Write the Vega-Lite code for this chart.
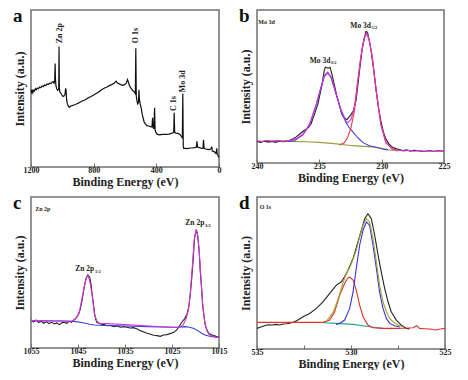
{
  "$schema": "https://vega.github.io/schema/vega-lite/v6.json",
  "background": "white",
  "padding": {"left": 12, "top": 6, "right": 0, "bottom": 0},
  "config": {
    "view": {"stroke": "#707070", "strokeWidth": 1.5},
    "font": "'Liberation Serif', 'Times New Roman', 'DejaVu Serif', serif",
    "axis": {"grid": false, "domain": false, "labelFont": "'Liberation Serif', 'Times New Roman', 'DejaVu Serif', serif", "titleFont": "'Liberation Serif', 'Times New Roman', 'DejaVu Serif', serif", "labelFontWeight": "bold", "titleFontWeight": "bold", "labelColor": "#222222", "titleColor": "#222222", "labelFontSize": 8, "titleFontSize": 12},
    "axisX": {"tickSize": -4, "tickColor": "#707070", "tickWidth": 1, "labelPadding": 3, "titlePadding": 2, "labelOverlap": false, "labelFlush": false},
    "axisY": {"labels": false, "ticks": false, "titlePadding": 5},
    "title": {"font": "'Liberation Serif', 'Times New Roman', 'DejaVu Serif', serif", "fontWeight": "bold", "fontSize": 19, "anchor": "start", "frame": "bounds", "baseline": "alphabetic", "offset": 0, "dy": 20, "color": "#111111"},
    "text": {"font": "'Liberation Serif', 'Times New Roman', 'DejaVu Serif', serif", "fontWeight": "bold", "color": "#222222"},
    "line": {"strokeWidth": 1.1}
  },
  "bounds": "flush",
  "columns": 2,
  "spacing": {"row": 30, "column": 38},
  "resolve": {"scale": {"color": "independent"}},
  "datasets": {
    "a_line": [
      {"e":1200,"i":228},{"e":1196,"i":220},{"e":1192,"i":225},{"e":1188,"i":219},{"e":1184,"i":226},{"e":1178,"i":224},{"e":1172,"i":231},{"e":1166,"i":228},{"e":1160,"i":233},{"e":1152,"i":231},{"e":1145,"i":236},{"e":1138,"i":234},{"e":1130,"i":239},{"e":1122,"i":237},{"e":1114,"i":242},{"e":1106,"i":240},{"e":1098,"i":245},{"e":1090,"i":243},{"e":1082,"i":247},{"e":1074,"i":246},{"e":1066,"i":250},{"e":1058,"i":252},{"e":1053,"i":247},{"e":1049,"i":252},{"e":1046,"i":305},{"e":1044,"i":262},{"e":1041,"i":240},{"e":1036,"i":231},{"e":1031,"i":226},{"e":1026,"i":228},{"e":1023,"i":232},{"e":1021,"i":355},{"e":1019,"i":232},{"e":1016,"i":222},{"e":1010,"i":218},{"e":1004,"i":213},{"e":996,"i":208},{"e":988,"i":210},{"e":983,"i":214},{"e":979,"i":232},{"e":976,"i":226},{"e":973,"i":200},{"e":968,"i":186},{"e":962,"i":180},{"e":956,"i":176},{"e":948,"i":179},{"e":938,"i":181},{"e":925,"i":183},{"e":910,"i":186},{"e":895,"i":189},{"e":880,"i":193},{"e":865,"i":196},{"e":850,"i":199},{"e":835,"i":204},{"e":820,"i":207},{"e":805,"i":211},{"e":790,"i":215},{"e":775,"i":219},{"e":760,"i":224},{"e":745,"i":229},{"e":730,"i":233},{"e":715,"i":236},{"e":700,"i":240},{"e":685,"i":243},{"e":670,"i":247},{"e":662,"i":251},{"e":656,"i":253},{"e":650,"i":248},{"e":640,"i":246},{"e":628,"i":243},{"e":615,"i":241},{"e":603,"i":243},{"e":592,"i":247},{"e":584,"i":258},{"e":578,"i":250},{"e":572,"i":240},{"e":564,"i":234},{"e":556,"i":229},{"e":548,"i":224},{"e":540,"i":221},{"e":534,"i":216},{"e":531,"i":350},{"e":528,"i":210},{"e":524,"i":196},{"e":519,"i":186},{"e":514,"i":190},{"e":511,"i":228},{"e":508,"i":200},{"e":503,"i":186},{"e":496,"i":172},{"e":490,"i":155},{"e":485,"i":146},{"e":478,"i":133},{"e":470,"i":127},{"e":460,"i":122},{"e":448,"i":121},{"e":436,"i":119},{"e":428,"i":118},{"e":424,"i":145},{"e":421,"i":118},{"e":416,"i":112},{"e":411,"i":175},{"e":408,"i":110},{"e":403,"i":102},{"e":395,"i":97},{"e":380,"i":95},{"e":360,"i":96},{"e":340,"i":96},{"e":320,"i":97},{"e":305,"i":99},{"e":292,"i":101},{"e":289,"i":104},{"e":286,"i":160},{"e":283,"i":102},{"e":275,"i":100},{"e":262,"i":99},{"e":250,"i":96},{"e":240,"i":90},{"e":234,"i":86},{"e":231,"i":217},{"e":228,"i":60},{"e":225,"i":55},{"e":215,"i":55},{"e":200,"i":54},{"e":185,"i":56},{"e":170,"i":56},{"e":155,"i":57},{"e":145,"i":58},{"e":141,"i":76},{"e":137,"i":59},{"e":125,"i":57},{"e":110,"i":55},{"e":102,"i":56},{"e":99,"i":80},{"e":95,"i":55},{"e":85,"i":53},{"e":72,"i":52},{"e":60,"i":51},{"e":50,"i":55},{"e":46,"i":60},{"e":43,"i":47},{"e":35,"i":46},{"e":28,"i":44},{"e":20,"i":40},{"e":16,"i":48},{"e":14,"i":55},{"e":12,"i":40},{"e":8,"i":36},{"e":4,"i":32},{"e":0,"i":28}
    ],
    "a_lab": [
      {"e":1018,"i":365,"t":"Zn 2p"},{"e":530,"i":365,"t":"O 1s"},{"e":287,"i":165,"t":"C 1s"},{"e":227,"i":220,"t":"Mo 3d"}
    ],
    "b_line": [
      {"s":"background","e":240,"i":66},{"s":"background","e":238,"i":66},{"s":"background","e":236,"i":65},{"s":"background","e":235,"i":63},{"s":"background","e":234,"i":60},{"s":"background","e":233,"i":56},{"s":"background","e":232.3,"i":53},{"s":"background","e":231.5,"i":51},{"s":"background","e":231,"i":50},{"s":"background","e":230.5,"i":48},{"s":"background","e":230,"i":45},{"s":"background","e":229.5,"i":41},{"s":"background","e":229,"i":38},{"s":"background","e":228.7,"i":37},
      {"s":"raw","e":240,"i":66},{"s":"raw","e":239.7,"i":63},{"s":"raw","e":239.4,"i":67},{"s":"raw","e":239.1,"i":64},{"s":"raw","e":238.8,"i":66},{"s":"raw","e":238.5,"i":63},{"s":"raw","e":238.2,"i":67},{"s":"raw","e":237.9,"i":65},{"s":"raw","e":237.6,"i":68},{"s":"raw","e":237.39,"i":69},{"s":"raw","e":237.1,"i":74},{"s":"raw","e":236.86,"i":80},{"s":"raw","e":236.6,"i":88},{"s":"raw","e":236.3,"i":97},{"s":"raw","e":236.06,"i":103},{"s":"raw","e":235.85,"i":110},{"s":"raw","e":235.66,"i":120},{"s":"raw","e":235.4,"i":148},{"s":"raw","e":235.12,"i":180},{"s":"raw","e":234.95,"i":210},{"s":"raw","e":234.78,"i":240},{"s":"raw","e":234.6,"i":285},{"s":"raw","e":234.51,"i":293},{"s":"raw","e":234.3,"i":290},{"s":"raw","e":234.14,"i":293},{"s":"raw","e":233.95,"i":265},{"s":"raw","e":233.79,"i":238},{"s":"raw","e":233.6,"i":205},{"s":"raw","e":233.39,"i":178},{"s":"raw","e":233.2,"i":150},{"s":"raw","e":232.99,"i":138},{"s":"raw","e":232.78,"i":133},{"s":"raw","e":232.6,"i":142},{"s":"raw","e":232.46,"i":148},{"s":"raw","e":232.27,"i":160},{"s":"raw","e":232.06,"i":190},{"s":"raw","e":231.9,"i":240},{"s":"raw","e":231.79,"i":278},{"s":"raw","e":231.53,"i":358},{"s":"raw","e":231.26,"i":403},{"s":"raw","e":231.13,"i":400},{"s":"raw","e":230.86,"i":348},{"s":"raw","e":230.66,"i":290},{"s":"raw","e":230.46,"i":228},{"s":"raw","e":230.26,"i":170},{"s":"raw","e":230.06,"i":128},{"s":"raw","e":229.86,"i":95},{"s":"raw","e":229.66,"i":73},{"s":"raw","e":229.4,"i":58},{"s":"raw","e":229.13,"i":48},{"s":"raw","e":228.86,"i":44},{"s":"raw","e":228.6,"i":41},{"s":"raw","e":228.3,"i":38},{"s":"raw","e":228,"i":40},{"s":"raw","e":227.7,"i":36},{"s":"raw","e":227.4,"i":39},{"s":"raw","e":227,"i":37},{"s":"raw","e":226.6,"i":35},{"s":"raw","e":226.2,"i":38},{"s":"raw","e":225.8,"i":36},{"s":"raw","e":225.4,"i":38},{"s":"raw","e":225,"i":36},
      {"s":"Mo 3d3/2","e":237.5,"i":66},{"s":"Mo 3d3/2","e":237,"i":68},{"s":"Mo 3d3/2","e":236.32,"i":86},{"s":"Mo 3d3/2","e":235.79,"i":116},{"s":"Mo 3d3/2","e":235.26,"i":176},{"s":"Mo 3d3/2","e":234.86,"i":231},{"s":"Mo 3d3/2","e":234.59,"i":266},{"s":"Mo 3d3/2","e":234.33,"i":276},{"s":"Mo 3d3/2","e":234.06,"i":261},{"s":"Mo 3d3/2","e":233.66,"i":211},{"s":"Mo 3d3/2","e":233.26,"i":160},{"s":"Mo 3d3/2","e":232.86,"i":124},{"s":"Mo 3d3/2","e":232.6,"i":108},{"s":"Mo 3d3/2","e":232.33,"i":96},{"s":"Mo 3d3/2","e":231.93,"i":78},{"s":"Mo 3d3/2","e":231.53,"i":63},{"s":"Mo 3d3/2","e":231,"i":53},{"s":"Mo 3d3/2","e":230.46,"i":48},{"s":"Mo 3d3/2","e":229.93,"i":43},{"s":"Mo 3d3/2","e":229.5,"i":40},
      {"s":"Mo 3d5/2","e":233.4,"i":55},{"s":"Mo 3d5/2","e":233,"i":62},{"s":"Mo 3d5/2","e":232.73,"i":78},{"s":"Mo 3d5/2","e":232.46,"i":108},{"s":"Mo 3d5/2","e":232.19,"i":158},{"s":"Mo 3d5/2","e":231.93,"i":246},{"s":"Mo 3d5/2","e":231.66,"i":326},{"s":"Mo 3d5/2","e":231.4,"i":381},{"s":"Mo 3d5/2","e":231.21,"i":396},{"s":"Mo 3d5/2","e":231,"i":376},{"s":"Mo 3d5/2","e":230.73,"i":316},{"s":"Mo 3d5/2","e":230.46,"i":226},{"s":"Mo 3d5/2","e":230.06,"i":116},{"s":"Mo 3d5/2","e":229.66,"i":61},{"s":"Mo 3d5/2","e":229.13,"i":42},{"s":"Mo 3d5/2","e":228.6,"i":38},
      {"s":"envelope","e":240,"i":68},{"s":"envelope","e":239.6,"i":66},{"s":"envelope","e":239.2,"i":69},{"s":"envelope","e":238.8,"i":67},{"s":"envelope","e":238.4,"i":69},{"s":"envelope","e":238,"i":67},{"s":"envelope","e":237.6,"i":68},{"s":"envelope","e":237.2,"i":70},{"s":"envelope","e":236.8,"i":76},{"s":"envelope","e":236.32,"i":88},{"s":"envelope","e":235.79,"i":118},{"s":"envelope","e":235.26,"i":178},{"s":"envelope","e":234.86,"i":233},{"s":"envelope","e":234.59,"i":268},{"s":"envelope","e":234.33,"i":278},{"s":"envelope","e":234.06,"i":263},{"s":"envelope","e":233.66,"i":213},{"s":"envelope","e":233.26,"i":163},{"s":"envelope","e":232.86,"i":128},{"s":"envelope","e":232.73,"i":123},{"s":"envelope","e":232.46,"i":133},{"s":"envelope","e":232.19,"i":168},{"s":"envelope","e":231.93,"i":248},{"s":"envelope","e":231.66,"i":328},{"s":"envelope","e":231.4,"i":383},{"s":"envelope","e":231.21,"i":398},{"s":"envelope","e":231,"i":378},{"s":"envelope","e":230.73,"i":318},{"s":"envelope","e":230.46,"i":228},{"s":"envelope","e":230.06,"i":118},{"s":"envelope","e":229.66,"i":63},{"s":"envelope","e":229.13,"i":43},{"s":"envelope","e":228.6,"i":39},{"s":"envelope","e":228.2,"i":37},{"s":"envelope","e":227.8,"i":39},{"s":"envelope","e":227.4,"i":36},{"s":"envelope","e":227,"i":38},{"s":"envelope","e":226.6,"i":36},{"s":"envelope","e":226.2,"i":37},{"s":"envelope","e":225.8,"i":35},{"s":"envelope","e":225.4,"i":37},{"s":"envelope","e":225,"i":36}
    ],
    "b_corner": [{"e":239.9,"i":440,"t":"Mo 3d"}],
    "b_main": [{"e":234.12,"i":306,"t":"Mo 3d"},{"e":230.86,"i":413,"t":"Mo 3d"}],
    "b_sub": [{"e":234.08,"i":302,"t":"3/2"},{"e":230.82,"i":409,"t":"5/2"}],
    "c_line": [
      {"s":"raw","e":1055,"i":84},{"s":"raw","e":1054.4,"i":78},{"s":"raw","e":1053.9,"i":84},{"s":"raw","e":1053.4,"i":76},{"s":"raw","e":1052.8,"i":80},{"s":"raw","e":1052.3,"i":74},{"s":"raw","e":1051.7,"i":79},{"s":"raw","e":1051.2,"i":73},{"s":"raw","e":1050.6,"i":77},{"s":"raw","e":1050,"i":72},{"s":"raw","e":1049.5,"i":75},{"s":"raw","e":1048.9,"i":70},{"s":"raw","e":1048.4,"i":76},{"s":"raw","e":1048,"i":77},{"s":"raw","e":1047.4,"i":74},{"s":"raw","e":1046.9,"i":80},{"s":"raw","e":1046.4,"i":77},{"s":"raw","e":1045.9,"i":84},{"s":"raw","e":1045.5,"i":88},{"s":"raw","e":1045.2,"i":94},{"s":"raw","e":1044.8,"i":104},{"s":"raw","e":1044.5,"i":117},{"s":"raw","e":1044.1,"i":145},{"s":"raw","e":1043.8,"i":172},{"s":"raw","e":1043.5,"i":195},{"s":"raw","e":1043.2,"i":212},{"s":"raw","e":1042.9,"i":219},{"s":"raw","e":1042.5,"i":212},{"s":"raw","e":1042.2,"i":188},{"s":"raw","e":1042,"i":162},{"s":"raw","e":1041.7,"i":130},{"s":"raw","e":1041.5,"i":102},{"s":"raw","e":1041.2,"i":85},{"s":"raw","e":1041,"i":77},{"s":"raw","e":1040.6,"i":75},{"s":"raw","e":1040.2,"i":72},{"s":"raw","e":1039.5,"i":70},{"s":"raw","e":1038.8,"i":67},{"s":"raw","e":1038.1,"i":68},{"s":"raw","e":1037.4,"i":64},{"s":"raw","e":1036.7,"i":66},{"s":"raw","e":1036,"i":62},{"s":"raw","e":1035.3,"i":64},{"s":"raw","e":1034.6,"i":62},{"s":"raw","e":1033.9,"i":60},{"s":"raw","e":1033.2,"i":61},{"s":"raw","e":1032.4,"i":57},{"s":"raw","e":1031.7,"i":52},{"s":"raw","e":1031,"i":48},{"s":"raw","e":1030.3,"i":44},{"s":"raw","e":1029.6,"i":41},{"s":"raw","e":1028.9,"i":38},{"s":"raw","e":1028.2,"i":37},{"s":"raw","e":1027.5,"i":35},{"s":"raw","e":1026.8,"i":39},{"s":"raw","e":1026.1,"i":40},{"s":"raw","e":1025.4,"i":43},{"s":"raw","e":1024.6,"i":47},{"s":"raw","e":1024,"i":54},{"s":"raw","e":1023.6,"i":62},{"s":"raw","e":1022.9,"i":77},{"s":"raw","e":1022.3,"i":88},{"s":"raw","e":1021.8,"i":102},{"s":"raw","e":1021.4,"i":125},{"s":"raw","e":1021.1,"i":162},{"s":"raw","e":1020.8,"i":210},{"s":"raw","e":1020.5,"i":262},{"s":"raw","e":1020.2,"i":332},{"s":"raw","e":1019.8,"i":354},{"s":"raw","e":1019.5,"i":332},{"s":"raw","e":1019.2,"i":285},{"s":"raw","e":1019,"i":232},{"s":"raw","e":1018.7,"i":180},{"s":"raw","e":1018.5,"i":132},{"s":"raw","e":1018.2,"i":95},{"s":"raw","e":1017.9,"i":67},{"s":"raw","e":1017.5,"i":52},{"s":"raw","e":1017.2,"i":44},{"s":"raw","e":1016.6,"i":40},{"s":"raw","e":1016.1,"i":37},{"s":"raw","e":1015.5,"i":34},{"s":"raw","e":1015,"i":32},
      {"s":"background","e":1055,"i":82},{"s":"background","e":1048,"i":81},{"s":"background","e":1046.5,"i":80},{"s":"background","e":1045.5,"i":79},{"s":"background","e":1044.5,"i":77},{"s":"background","e":1043.5,"i":74},{"s":"background","e":1042.5,"i":71},{"s":"background","e":1041.5,"i":69},{"s":"background","e":1040.5,"i":68},{"s":"background","e":1038,"i":67},{"s":"background","e":1035,"i":66},{"s":"background","e":1030,"i":64},{"s":"background","e":1025,"i":62},{"s":"background","e":1023.5,"i":62},{"s":"background","e":1022.5,"i":64},{"s":"background","e":1021.5,"i":63},{"s":"background","e":1020.5,"i":59},{"s":"background","e":1019.5,"i":52},{"s":"background","e":1018.7,"i":44},{"s":"background","e":1018,"i":39},{"s":"background","e":1017,"i":35},{"s":"background","e":1016,"i":33},{"s":"background","e":1015,"i":32},
      {"s":"envelope","e":1055,"i":82},{"s":"envelope","e":1050,"i":81},{"s":"envelope","e":1046.5,"i":80},{"s":"envelope","e":1045.8,"i":84},{"s":"envelope","e":1045.2,"i":94},{"s":"envelope","e":1044.8,"i":104},{"s":"envelope","e":1044.4,"i":130},{"s":"envelope","e":1044,"i":160},{"s":"envelope","e":1043.6,"i":190},{"s":"envelope","e":1043.2,"i":210},{"s":"envelope","e":1042.9,"i":217},{"s":"envelope","e":1042.6,"i":206},{"s":"envelope","e":1042.3,"i":185},{"s":"envelope","e":1042,"i":158},{"s":"envelope","e":1041.7,"i":125},{"s":"envelope","e":1041.4,"i":98},{"s":"envelope","e":1041,"i":80},{"s":"envelope","e":1040.5,"i":75},{"s":"envelope","e":1040,"i":74},{"s":"envelope","e":1035,"i":70},{"s":"envelope","e":1030,"i":66},{"s":"envelope","e":1025,"i":62},{"s":"envelope","e":1023.3,"i":62},{"s":"envelope","e":1022.6,"i":70},{"s":"envelope","e":1022,"i":88},{"s":"envelope","e":1021.5,"i":115},{"s":"envelope","e":1021.1,"i":165},{"s":"envelope","e":1020.7,"i":240},{"s":"envelope","e":1020.3,"i":320},{"s":"envelope","e":1019.9,"i":352},{"s":"envelope","e":1019.6,"i":345},{"s":"envelope","e":1019.3,"i":305},{"s":"envelope","e":1019,"i":245},{"s":"envelope","e":1018.7,"i":175},{"s":"envelope","e":1018.4,"i":120},{"s":"envelope","e":1018,"i":75},{"s":"envelope","e":1017.6,"i":52},{"s":"envelope","e":1017.1,"i":40},{"s":"envelope","e":1016.5,"i":35},{"s":"envelope","e":1015.8,"i":33},{"s":"envelope","e":1015,"i":32}
    ],
    "c_corner": [{"e":1054.1,"i":426,"t":"Zn 2p"}],
    "c_main": [{"e":1041.53,"i":230,"t":"Zn 2p"},{"e":1018.12,"i":367,"t":"Zn 2p"}],
    "c_sub": [{"e":1041.4,"i":226,"t":"1/2"},{"e":1018,"i":363,"t":"3/2"}],
    "d_line": [
      {"s":"raw","e":535,"i":62},{"s":"raw","e":534.8,"i":66},{"s":"raw","e":534.6,"i":70},{"s":"raw","e":534.4,"i":73},{"s":"raw","e":534.2,"i":72},{"s":"raw","e":534,"i":74},{"s":"raw","e":533.8,"i":72},{"s":"raw","e":533.6,"i":75},{"s":"raw","e":533.4,"i":76},{"s":"raw","e":533.2,"i":78},{"s":"raw","e":533,"i":82},{"s":"raw","e":532.8,"i":88},{"s":"raw","e":532.55,"i":97},{"s":"raw","e":532.2,"i":107},{"s":"raw","e":531.84,"i":122},{"s":"raw","e":531.49,"i":142},{"s":"raw","e":531.13,"i":167},{"s":"raw","e":530.78,"i":192},{"s":"raw","e":530.51,"i":202},{"s":"raw","e":530.34,"i":217},{"s":"raw","e":530.16,"i":237},{"s":"raw","e":529.89,"i":272},{"s":"raw","e":529.63,"i":322},{"s":"raw","e":529.45,"i":357},{"s":"raw","e":529.27,"i":392},{"s":"raw","e":529.1,"i":407},{"s":"raw","e":528.92,"i":392},{"s":"raw","e":528.74,"i":342},{"s":"raw","e":528.56,"i":282},{"s":"raw","e":528.39,"i":232},{"s":"raw","e":528.21,"i":182},{"s":"raw","e":528.03,"i":142},{"s":"raw","e":527.86,"i":112},{"s":"raw","e":527.59,"i":87},{"s":"raw","e":527.33,"i":72},{"s":"raw","e":527.06,"i":62},{"s":"raw","e":526.88,"i":60},
      {"s":"background","e":531.5,"i":79},{"s":"background","e":530.78,"i":77},{"s":"background","e":529.89,"i":74},{"s":"background","e":529.01,"i":67},{"s":"background","e":528.3,"i":62},{"s":"background","e":527.8,"i":61},
      {"s":"O 1s high","e":535,"i":80},{"s":"O 1s high","e":534,"i":80},{"s":"O 1s high","e":533,"i":80},{"s":"O 1s high","e":532,"i":80},{"s":"O 1s high","e":531.49,"i":80},{"s":"O 1s high","e":531.13,"i":87},{"s":"O 1s high","e":530.87,"i":112},{"s":"O 1s high","e":530.6,"i":162},{"s":"O 1s high","e":530.34,"i":197},{"s":"O 1s high","e":530.16,"i":214},{"s":"O 1s high","e":530.07,"i":216},{"s":"O 1s high","e":529.89,"i":207},{"s":"O 1s high","e":529.72,"i":177},{"s":"O 1s high","e":529.54,"i":132},{"s":"O 1s high","e":529.36,"i":97},{"s":"O 1s high","e":529.1,"i":72},{"s":"O 1s high","e":528.83,"i":64},{"s":"O 1s high","e":528.3,"i":62},{"s":"O 1s high","e":527.5,"i":62},{"s":"O 1s high","e":527,"i":63},{"s":"O 1s high","e":526.7,"i":64},{"s":"O 1s high","e":526.5,"i":70},{"s":"O 1s high","e":526.35,"i":62},{"s":"O 1s high","e":526.1,"i":61},{"s":"O 1s high","e":525.8,"i":60},{"s":"O 1s high","e":525.5,"i":57},{"s":"O 1s high","e":525.25,"i":60},{"s":"O 1s high","e":525,"i":62},
      {"s":"O 1s low","e":530.8,"i":74},{"s":"O 1s low","e":530.6,"i":77},{"s":"O 1s low","e":530.34,"i":87},{"s":"O 1s low","e":530.07,"i":122},{"s":"O 1s low","e":529.89,"i":172},{"s":"O 1s low","e":529.72,"i":242},{"s":"O 1s low","e":529.54,"i":312},{"s":"O 1s low","e":529.36,"i":357},{"s":"O 1s low","e":529.18,"i":382},{"s":"O 1s low","e":529.01,"i":372},{"s":"O 1s low","e":528.83,"i":312},{"s":"O 1s low","e":528.65,"i":242},{"s":"O 1s low","e":528.48,"i":172},{"s":"O 1s low","e":528.3,"i":122},{"s":"O 1s low","e":528.12,"i":92},{"s":"O 1s low","e":527.94,"i":77},{"s":"O 1s low","e":527.68,"i":70},{"s":"O 1s low","e":527.4,"i":66},
      {"s":"envelope","e":531.3,"i":84},{"s":"envelope","e":530.95,"i":110},{"s":"envelope","e":530.7,"i":148},{"s":"envelope","e":530.5,"i":185},{"s":"envelope","e":530.25,"i":228},{"s":"envelope","e":530.07,"i":245},{"s":"envelope","e":529.98,"i":257},{"s":"envelope","e":529.72,"i":297},{"s":"envelope","e":529.54,"i":337},{"s":"envelope","e":529.36,"i":372},{"s":"envelope","e":529.18,"i":392},{"s":"envelope","e":529.01,"i":382},{"s":"envelope","e":528.83,"i":332},{"s":"envelope","e":528.65,"i":262},{"s":"envelope","e":528.48,"i":192},{"s":"envelope","e":528.3,"i":142},{"s":"envelope","e":528.12,"i":112},{"s":"envelope","e":527.94,"i":92},{"s":"envelope","e":527.77,"i":82},{"s":"envelope","e":527.5,"i":72},{"s":"envelope","e":527.2,"i":66}
    ],
    "d_corner": [{"e":534.86,"i":436,"t":"O 1s"}]
  },
  "concat": [
    {
      "width": 188, "height": 157,
      "title": {"text": "a"},
      "layer": [
        {"data": {"name": "a_line"}, "mark": {"type": "line", "color": "#111111", "strokeWidth": 1.2},
         "encoding": {
           "x": {"field": "e", "type": "quantitative", "title": "Binding Energy (eV)", "scale": {"domain": [0, 1200], "reverse": true, "nice": false, "zero": false},
                 "axis": {"values": [0,100,200,300,400,500,600,700,800,900,1000,1100,1200], "format": "d", "labelExpr": "datum.value % 200 == 0 ? datum.label : ''"}},
           "y": {"field": "i", "type": "quantitative", "title": "Intensity (a.u.)", "scale": {"domain": [0, 463], "nice": false, "zero": false}}
         }},
        {"data": {"name": "a_lab"}, "mark": {"type": "text", "angle": 270, "align": "left", "baseline": "middle", "fontSize": 8},
         "encoding": {"x": {"field": "e", "type": "quantitative"}, "y": {"field": "i", "type": "quantitative"}, "text": {"field": "t"}}}
      ]
    },
    {
      "width": 187, "height": 153,
      "title": {"text": "b"},
      "layer": [
        {"data": {"name": "b_line"}, "mark": {"type": "line"},
         "encoding": {
           "x": {"field": "e", "type": "quantitative", "title": "Binding Energy (eV)", "scale": {"domain": [225, 240], "reverse": true, "nice": false, "zero": false},
                 "axis": {"values": [225,227.5,230,232.5,235,237.5,240], "format": "d", "labelExpr": "datum.value % 5 == 0 ? datum.label : ''"}},
           "y": {"field": "i", "type": "quantitative", "title": "Intensity (a.u.)", "scale": {"domain": [0, 468], "nice": false, "zero": false}},
           "color": {"field": "s", "type": "nominal", "legend": null, "sort": ["background","raw","Mo 3d3/2","Mo 3d5/2","envelope"],
                     "scale": {"domain": ["background","raw","Mo 3d3/2","Mo 3d5/2","envelope"], "range": ["#9a9a3a","#222222","#3b3bdc","#e5412e","#d633d6"]}}
         }},
        {"data": {"name": "b_corner"}, "mark": {"type": "text", "align": "left", "baseline": "top", "fontSize": 6},
         "encoding": {"x": {"field": "e", "type": "quantitative"}, "y": {"field": "i", "type": "quantitative"}, "text": {"field": "t"}}},
        {"data": {"name": "b_main"}, "mark": {"type": "text", "align": "right", "baseline": "alphabetic", "fontSize": 7.5},
         "encoding": {"x": {"field": "e", "type": "quantitative"}, "y": {"field": "i", "type": "quantitative"}, "text": {"field": "t"}}},
        {"data": {"name": "b_sub"}, "mark": {"type": "text", "align": "left", "baseline": "alphabetic", "fontSize": 4.5},
         "encoding": {"x": {"field": "e", "type": "quantitative"}, "y": {"field": "i", "type": "quantitative"}, "text": {"field": "t"}}}
      ]
    },
    {
      "width": 188, "height": 151,
      "title": {"text": "c"},
      "layer": [
        {"data": {"name": "c_line"}, "mark": {"type": "line"},
         "encoding": {
           "x": {"field": "e", "type": "quantitative", "title": "Binding Energy (eV)", "scale": {"domain": [1015, 1055], "reverse": true, "nice": false, "zero": false},
                 "axis": {"values": [1015,1020,1025,1030,1035,1040,1045,1050,1055], "format": "d", "labelExpr": "(datum.value - 1015) % 10 == 0 ? datum.label : ''"}},
           "y": {"field": "i", "type": "quantitative", "title": "Intensity (a.u.)", "scale": {"domain": [0, 452], "nice": false, "zero": false}},
           "color": {"field": "s", "type": "nominal", "legend": null,
                     "scale": {"domain": ["raw","background","envelope"], "range": ["#222222","#3b3bdc","#d633d6"]}}
         }},
        {"data": {"name": "c_corner"}, "mark": {"type": "text", "align": "left", "baseline": "top", "fontSize": 6},
         "encoding": {"x": {"field": "e", "type": "quantitative"}, "y": {"field": "i", "type": "quantitative"}, "text": {"field": "t"}}},
        {"data": {"name": "c_main"}, "mark": {"type": "text", "align": "right", "baseline": "alphabetic", "fontSize": 7.5},
         "encoding": {"x": {"field": "e", "type": "quantitative"}, "y": {"field": "i", "type": "quantitative"}, "text": {"field": "t"}}},
        {"data": {"name": "c_sub"}, "mark": {"type": "text", "align": "left", "baseline": "alphabetic", "fontSize": 4.5},
         "encoding": {"x": {"field": "e", "type": "quantitative"}, "y": {"field": "i", "type": "quantitative"}, "text": {"field": "t"}}}
      ]
    },
    {
      "width": 188, "height": 152,
      "title": {"text": "d"},
      "layer": [
        {"data": {"name": "d_line"}, "mark": {"type": "line"},
         "encoding": {
           "x": {"field": "e", "type": "quantitative", "title": "Binding Energy (eV)", "scale": {"domain": [525, 535], "reverse": true, "nice": false, "zero": false},
                 "axis": {"values": [525,527.5,530,532.5,535], "format": "d", "labelExpr": "datum.value % 5 == 0 ? datum.label : ''"}},
           "y": {"field": "i", "type": "quantitative", "title": "Intensity (a.u.)", "scale": {"domain": [0, 457], "nice": false, "zero": false}},
           "color": {"field": "s", "type": "nominal", "legend": null,
                     "scale": {"domain": ["raw","background","O 1s high","O 1s low","envelope"], "range": ["#222222","#2aa39a","#e5302a","#3434e0","#a3a332"]}}
         }},
        {"data": {"name": "d_corner"}, "mark": {"type": "text", "align": "left", "baseline": "top", "fontSize": 6},
         "encoding": {"x": {"field": "e", "type": "quantitative"}, "y": {"field": "i", "type": "quantitative"}, "text": {"field": "t"}}}
      ]
    }
  ]
}
